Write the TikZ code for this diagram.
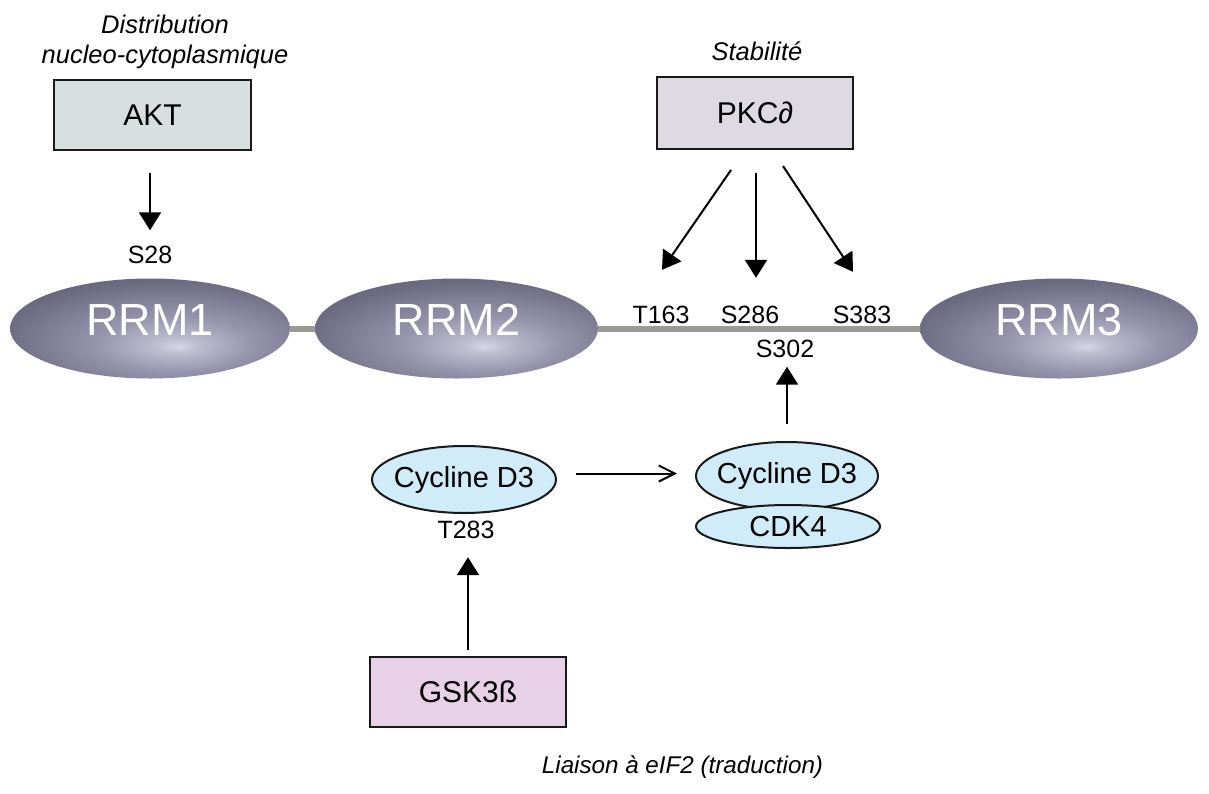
\documentclass[tikz,border=0pt]{standalone}
\usepackage{fontspec}
\setmainfont{Liberation Sans}
\usetikzlibrary{shapes.geometric, arrows.meta}
\usetikzlibrary{calc}

\definecolor{rrmdark}{HTML}{525166}
\definecolor{rrmmid}{HTML}{6C6B82}
\definecolor{rrmlight}{HTML}{9594AC}
\definecolor{rrmhi}{HTML}{D6D6E6}
\definecolor{linkgray}{HTML}{9B9B95}
\definecolor{aktfill}{HTML}{D8E0DF}
\definecolor{pkcfill}{HTML}{DDDBE1}
\definecolor{gskfill}{HTML}{E8D1E7}
\definecolor{cycfill}{HTML}{CFECF8}
\pgfdeclareradialshading{rrmshade}{\pgfpoint{5bp}{-9bp}}{color(0bp)=(rrmhi); color(4bp)=(rrmhi!60!rrmlight); color(14bp)=(rrmlight); color(30bp)=(rrmmid); color(48bp)=(rrmdark); color(100bp)=(rrmdark)}

\tikzset{
    kinase/.style={draw=black!90, line width=2pt, minimum width=197pt, minimum height=70pt, font=\fontsize{30}{35}\selectfont},
    rrmdomain/.style={ellipse, shading=rrmshade, minimum width=280pt, minimum height=100pt, inner sep=0pt, text=white, text height=32pt, text depth=18pt, font=\fontsize{45}{50}\selectfont},
    cyclin/.style={ellipse, draw=black!90, line width=2pt, fill=cycfill, inner sep=0pt, inner xsep=-30pt, font=\fontsize{29}{34}\selectfont},
    site/.style={inner sep=0pt, text height=18pt, text depth=0pt, font=\fontsize{25}{30}\selectfont},
    role/.style={inner sep=0pt, align=center, font=\fontsize{25.5}{30}\selectfont\itshape},
    act/.style={line width=2pt, -{Triangle[length=18pt,width=22pt]}},
    bind/.style={line width=2pt, -{Straight Barb[length=16pt,width=16pt]}},
    linker/.style={linkgray, line width=6pt}
}

\begin{document}
\begin{tikzpicture}[x=1pt, y=-1pt]
    \useasboundingbox (0,0) rectangle (1209,793);

    % Draw kinases
    \node[kinase, fill=aktfill] (akt) at (152.5,115) {AKT};
    \node[kinase, fill=pkcfill, minimum width=196pt, minimum height=72pt] (pkc) at (755,113) {PKC∂};
    \node[kinase, fill=gskfill, minimum width=196pt] (gsk) at (468,692) {GSK3ß};

    % Draw RRM domains and linker
    \node[rrmdomain] (rrm1) at (150,328.5) {RRM1};
    \node[rrmdomain, minimum width=283pt] (rrm2) at (456.5,328.5) {RRM2};
    \node[rrmdomain, minimum width=278pt] (rrm3) at (1059,328.5) {RRM3};
    \draw[linker] (rrm1.east) -- (rrm2.west);
    \draw[linker] (rrm2.east) -- (rrm3.west);

    % Phosphorylation sites
    \node[site] (s28) at (150,254.5) {S28};
    \node[site] (t163) at (661,314) {T163};
    \node[site] (s286) at (750,314) {S286};
    \node[site] (s383) at (862,314) {S383};
    \node[site] (s302) at (785,348.5) {S302};

    % Cyclins
    \node[cyclin, minimum width=184pt, minimum height=67pt] (cyc1) at (464,479.5) {Cycline D3};
    \node[site] (t283) at (466,529) {T283};
    \node[cyclin, minimum width=182pt, minimum height=68pt] (cyc2) at (787,476) {Cycline D3};
    \node[cyclin, minimum width=184pt, minimum height=43pt] (cdk4) at (788,526.5) {CDK4};

    % Roles
    \node[role] (akt_role) at (165,41.5) {Distribution\\nucleo-cytoplasmique};
    \node[role, anchor=base] (pkc_role) at (757,60) {Stabilité};
    \node[role, anchor=base, font=\fontsize{24.2}{29}\selectfont\itshape] (gsk_role) at (682.5,773) {Liaison à eIF2 (traduction)};

    % Arrows
    \draw[act, shorten <=22pt, shorten >=15pt] (akt.south -| s28) -- (s28.north);
    \draw[act] ($(pkc.south)+(-24,20)$) -- ($(t163.north)+(1,-35)$);
    \draw[act] ($(pkc.south)+(1,23)$) -- ($(s286.north)+(6,-27)$);
    \draw[act] ($(pkc.south)+(28,16)$) -- ($(s383.north)+(-9,-33)$);
    \draw[act, shorten <=17pt, shorten >=9pt] (cyc2.north) -- (cyc2.north |- s302.south);
    \draw[act, shorten <=6pt, shorten >=19pt] (gsk.north) -- (gsk.north |- t283.south);
    \draw[bind, shorten <=19pt, shorten >=18pt] ([yshift=6pt]cyc1.east) -- ([yshift=6pt]cyc1.east -| cyc2.west);

\end{tikzpicture}
\end{document}
